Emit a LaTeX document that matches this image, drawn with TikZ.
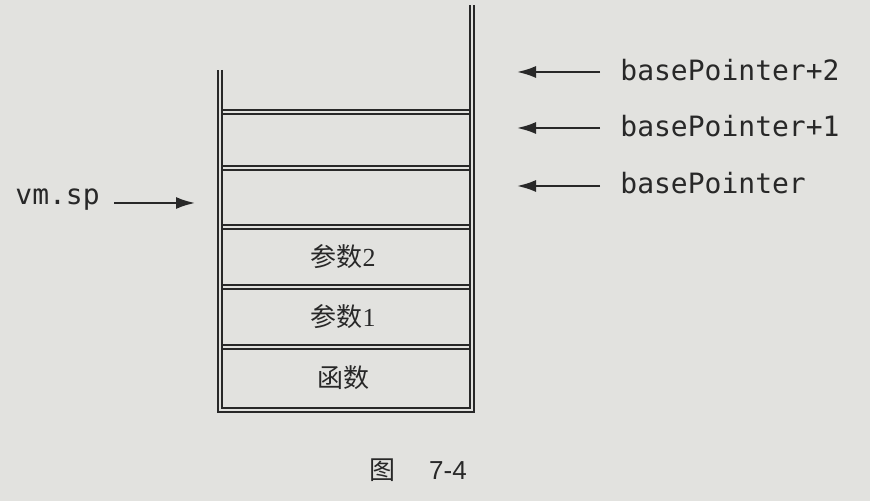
\documentclass[tikz,border=0pt]{standalone}
\usepackage{fontspec}
\setmainfont{Liberation Serif}
\setsansfont{Liberation Sans}
\setmonofont{DejaVu Sans Mono}
\newfontfamily\cjk{Noto Sans CJK SC}
\usetikzlibrary{arrows.meta}
\definecolor{paper}{RGB}{226,226,223}
\definecolor{ink}{RGB}{40,40,40}

\begin{document}
\begin{tikzpicture}[x=0.5pt, y=-0.5pt,
    wall/.style={draw=ink, line width=1pt, double=paper, double distance=1pt},
    slot/.style={inner sep=0pt, text=ink, font=\fontsize{13}{15}\selectfont},
    ptr/.style={inner sep=0pt, anchor=west, text=ink, font=\ttfamily\fontsize{14}{16}\selectfont},
    arr/.style={draw=ink, line width=1pt, -{Latex[length=9.5pt,width=6pt]}}]
    \fill[paper] (0,0) rectangle (870,501);

    % stack
    \draw[wall] (220,70) -- (220,410) -- (472,410) -- (472,5);
    \foreach \y in {112,168,227,287,347}
        \draw[wall] (223,\y) -- (469,\y);
    \node[slot] (arg2) at (343,257) {{\cjk 参数}2};
    \node[slot] (arg1) at (343,317) {{\cjk 参数}1};
    \node[slot] (func) at (343,378) {\cjk 函数};

    % pointers
    \node[ptr] (bp2) at (620,70) {basePointer+2};
    \node[ptr] (bp1) at (620,126) {basePointer+1};
    \node[ptr] (bp0) at (620,183) {basePointer};
    \node[ptr] (sp) at (15,200) {vm.sp};
    \coordinate (tip2) at (517,72);
    \coordinate (tip1) at (517,128);
    \coordinate (tip0) at (517,186);
    \coordinate (sptip) at (195,203);

    \draw[arr, shorten <=10pt] (tip2 -| bp2.west) -- (tip2);
    \draw[arr, shorten <=10pt] (tip1 -| bp1.west) -- (tip1);
    \draw[arr, shorten <=10pt] (tip0 -| bp0.west) -- (tip0);
    \draw[arr, shorten <=7pt] (sptip -| sp.east) -- (sptip);

    % caption
    \node[inner sep=0pt, text=ink] (cap) at (418,470)
        {{\cjk\fontsize{13}{15}\selectfont 图}\hspace{17pt}{\sffamily\fontsize{13}{15}\selectfont 7-4}};
\end{tikzpicture}
\end{document}
